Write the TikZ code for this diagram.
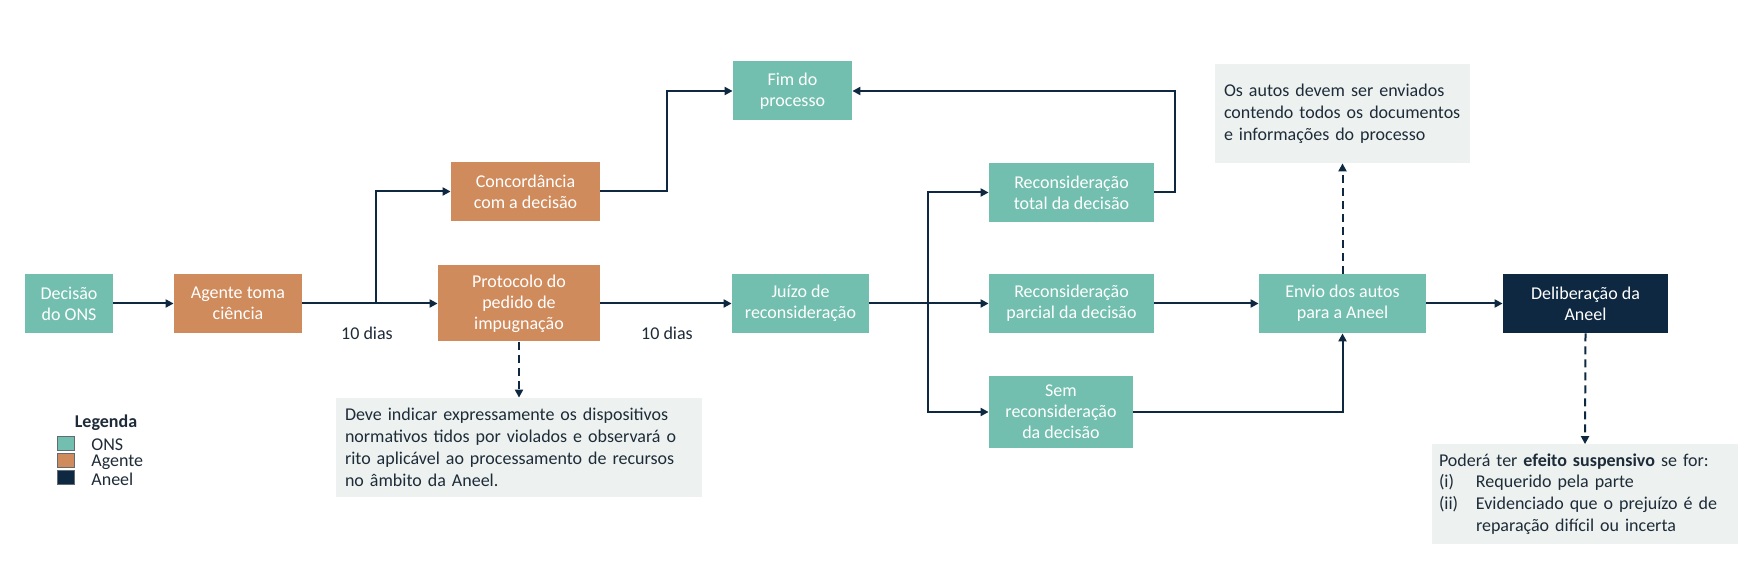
\documentclass[tikz,border=0pt]{standalone}
\usepackage{fontspec}
\setmainfont{Carlito}
\usetikzlibrary{arrows.meta}

\definecolor{onsteal}{HTML}{72BFB0}
\definecolor{agentorange}{HTML}{CF8B5C}
\definecolor{aneelnavy}{HTML}{0E2841}
\definecolor{notebg}{HTML}{EDF2F0}
\definecolor{inktext}{HTML}{1E2B38}

\tikzset{
	box/.style={minimum height=29.5pt, inner sep=2pt, align=center, text=white,
		font=\fontsize{9}{10.4}\selectfont},
	ons/.style={box, fill=onsteal},
	agente/.style={box, fill=agentorange},
	aneel/.style={box, fill=aneelnavy},
	note/.style={fill=notebg, text=inktext, align=left, inner xsep=4.5pt,
		minimum height=49.5pt, font=\fontsize{9}{10.9}\selectfont},
	flow/.style={draw=aneelnavy, line width=1pt, -{Triangle[length=4pt,width=4pt]}},
	hint/.style={flow, dash pattern=on 4pt off 2.5pt},
	days/.style={text=inktext, font=\fontsize{9}{10.4}\selectfont},
	legsq/.style={minimum width=8.5pt, minimum height=7pt, inner sep=0pt, draw=inktext!70, line width=0.3pt},
	legtxt/.style={anchor=west, inner sep=0pt, text=inktext, font=\fontsize{9}{9}\selectfont},
}

\begin{document}
\begin{tikzpicture}[x=0.5pt, y=-0.5pt]
	\useasboundingbox[fill=white] (0,0) rectangle (1756,571);

	% main row
	\node[ons, minimum width=44pt] (dec) at (69,303.5) {Decisão\\do ONS};
	\node[agente, minimum width=64pt] (agt) at (238,303.5) {Agente toma\\ciência};
	\node[agente, minimum width=81pt, minimum height=38pt] (prot) at (519,303.5) {Protocolo do\\pedido de\\impugnação};
	\node[ons, minimum width=68.5pt] (juizo) at (800.5,303.5) {Juízo de\\reconsideração};
	\node[ons, minimum width=82.5pt] (rpar) at (1071.5,303.5) {Reconsideração\\parcial da decisão};
	\node[ons, minimum width=83.5pt] (envio) at (1342.5,303.5) {Envio dos autos\\para a Aneel};
	\node[aneel, minimum width=82.5pt] (delib) at (1585.5,303.5) {Deliberação da\\Aneel};

	% upper and lower branches
	\node[agente, minimum width=74.5pt] (conc) at (525.5,191.5) {Concordância\\com a decisão};
	\node[ons, minimum width=59.5pt] (fim) at (792.5,91) {Fim do\\processo};
	\node[ons, minimum width=82.5pt] (rtot) at (1071.5,192.5) {Reconsideração\\total da decisão};
	\node[ons, minimum width=72pt, minimum height=36pt] (sem) at (1061,412) {Sem\\reconsideração\\da decisão};

	% notes
	\node[note, text width=118.5pt, minimum width=126.5pt] (note1) at (1342.5,113.5)
		{Os autos devem ser enviados\\contendo todos os documentos\\e informações do processo};
	\node[note, text width=174pt, minimum width=183pt] (note2) at (519,447.5)
		{Deve indicar expressamente os dispositivos\\normativos tidos por violados e observará o\\rito aplicável ao processamento de recursos\\no âmbito da Aneel.};
	\node[note, text width=146pt, minimum width=153pt, inner xsep=3.5pt] (note3) at (1585,494)
		{Poderá ter \textbf{efeito suspensivo} se for:\\
		\makebox[18.5pt][l]{(i)}Requerido pela parte\\
		\makebox[18.5pt][l]{(ii)}Evidenciado que o prejuízo é de\\
		\hspace*{18.5pt}reparação difícil ou incerta};

	\node[days] (d1) at (367,333) {10 dias};
	\node[days] (d2) at (667,333) {10 dias};

	% connectors
	\coordinate (split1) at (376,303.5);
	\coordinate (split2) at (928,303.5);
	\draw[flow] (dec) -- (agt);
	\draw[flow] (agt) -- (prot);
	\draw[flow] (split1) |- (conc.west);
	\draw[flow] (conc.east) -- ++(67,0) |- (fim.west);
	\draw[flow] (prot) -- (juizo);
	\draw[flow] (juizo) -- (rpar);
	\draw[flow] (split2) |- (rtot.west);
	\draw[flow] (split2) |- (sem.west);
	\draw[flow] (rtot.east) -- ++(21,0) |- (fim.east);
	\draw[flow] (rpar) -- (envio);
	\draw[flow] (sem.east) -| (envio.south);
	\draw[flow] (envio) -- (delib);
	\draw[hint] (prot.south) -- (note2.north);
	\draw[hint] (envio.north) -- (note1.south);
	\draw[hint] (delib.south) -- (note3.north);

	% legend
	\node[text=inktext, font=\bfseries\fontsize{9}{9}\selectfont] (leg) at (106,423) {Legenda};
	\node[legsq, fill=onsteal] (sqons) at (65.5,443) {};
	\node[legsq, fill=agentorange] (sqagt) at (65.5,460) {};
	\node[legsq, fill=aneelnavy] (sqanl) at (65.5,477) {};
	\node[legtxt] (tons) at (91,445) {ONS};
	\node[legtxt] (tagt) at (91,462) {Agente};
	\node[legtxt] (tanl) at (91,479) {Aneel};
\end{tikzpicture}
\end{document}
